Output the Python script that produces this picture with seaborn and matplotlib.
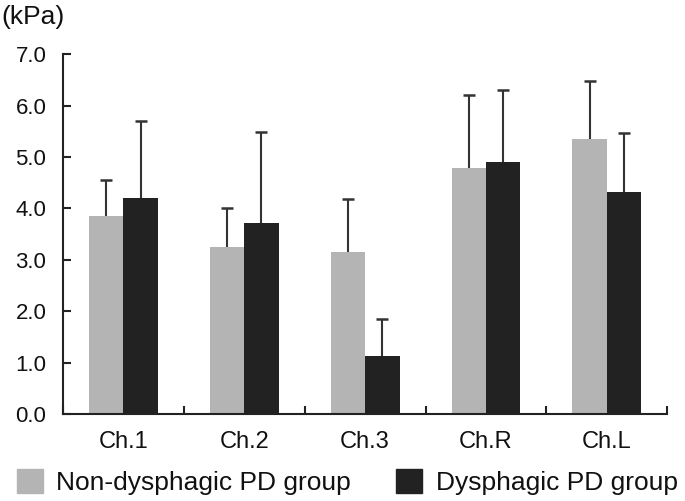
import numpy as np
import pandas as pd
import seaborn as sns
import matplotlib.pyplot as plt
from matplotlib.ticker import FixedLocator

# data (kPa, mean and SD)
channels = ['Ch.1', 'Ch.2', 'Ch.3', 'Ch.R', 'Ch.L']
groups = ['Non-dysphagic PD group', 'Dysphagic PD group']
non_dys_mean = [3.86, 3.25, 3.15, 4.78, 5.34]
non_dys_sd = [0.69, 0.76, 1.04, 1.42, 1.14]
dys_mean = [4.20, 3.72, 1.13, 4.91, 4.31]
dys_sd = [1.50, 1.76, 0.71, 1.39, 1.15]
yticks = [0, 1, 2, 3, 4, 5, 6, 7]

df = pd.DataFrame({
    'channel': channels * 2,
    'group': [groups[0]] * 5 + [groups[1]] * 5,
    'value': non_dys_mean + dys_mean,
    'sd': non_dys_sd + dys_sd,
})

sns.set_style('white')
plt.rcParams['font.family'] = ['Liberation Sans', 'DejaVu Sans']

fig = plt.figure(figsize=(6.85, 5.01), dpi=100)
ax = fig.add_axes([0.092, 0.1737, 0.882, 0.7183])

colors = ['#b4b4b4', '#222222']
sns.barplot(data=df, x='channel', y='value', hue='group', palette=colors,
            errorbar=None, width=0.57, ax=ax, legend=False,
            edgecolor='none', saturation=1)

# upward-only error bars at bar centres
for cont, g in zip(ax.containers, groups):
    sub = df[df['group'] == g]
    xs = [p.get_x() + p.get_width() / 2 for p in cont]
    tops = sub['value'] + sub['sd']
    ax.errorbar(xs, sub['value'], yerr=[np.zeros(len(xs)), sub['sd']],
                fmt='none', ecolor='#333333', elinewidth=1.5, capsize=0)
    ax.plot(xs, tops, ls='none', marker='_', markersize=9,
            markeredgewidth=1.8, color='#333333')

ax.set_ylim(0, 7)
ax.set_xlim(-0.5, 4.5)
ax.set_yticks(yticks, [f'{v:.1f}' for v in yticks])
ax.set_xlabel('')
ax.set_ylabel('')

for s in ['top', 'right']:
    ax.spines[s].set_visible(False)
for s in ['left', 'bottom']:
    ax.spines[s].set_color('#222222')
    ax.spines[s].set_linewidth(1.5)

ax.xaxis.set_minor_locator(FixedLocator(np.arange(-0.5, 5, 1)))
ax.tick_params(axis='x', which='major', length=0, pad=12, labelsize=17,
               colors='#111111')
ax.tick_params(axis='x', which='minor', direction='in', length=6,
               width=1.5, color='#222222', bottom=True)
ax.tick_params(axis='y', direction='in', length=6, width=1.5,
               color='#222222', labelsize=16, pad=12, left=True,
               labelcolor='#111111')

fig.text(0.002, 0.966, '(kPa)', fontsize=19, color='#111111', va='center')

handles = [plt.Rectangle((0, 0), 1, 1, color=c) for c in colors]
fig.legend(handles, groups, loc='lower center', bbox_to_anchor=(0.507, -0.036),
           ncol=2, frameon=False, fontsize=19, handlelength=1.0,
           handleheight=1.0, handletextpad=0.5, columnspacing=1.7,
           labelcolor='#111111')

fig.savefig('out.png', dpi=100)
